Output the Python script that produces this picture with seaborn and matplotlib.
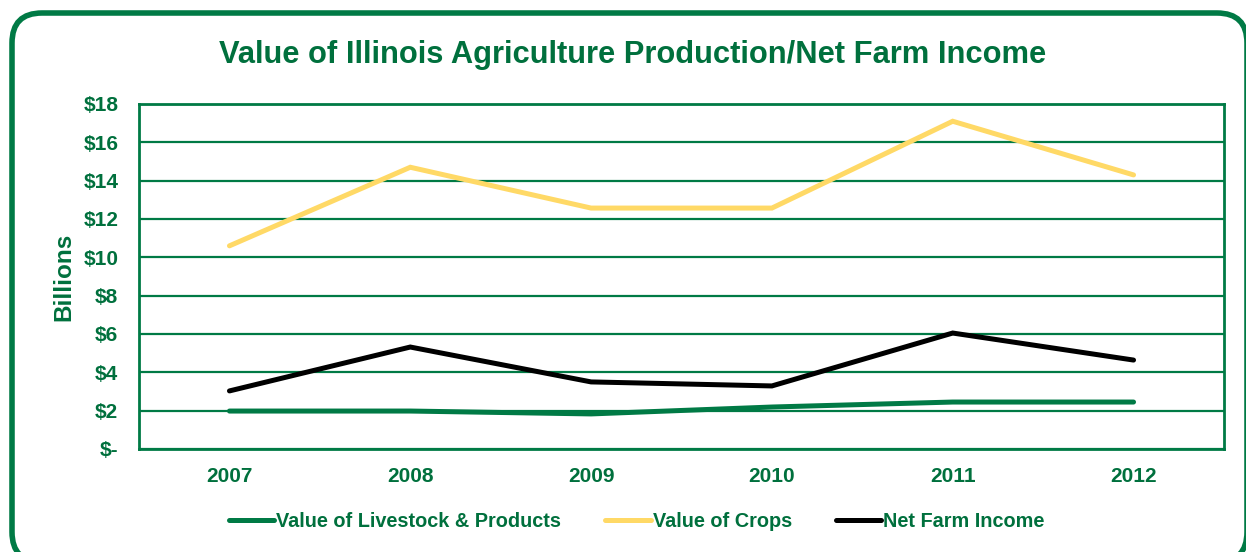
import matplotlib
matplotlib.use("Agg")
import matplotlib.pyplot as plt
from matplotlib.patches import FancyBboxPatch
import seaborn as sns
import pandas as pd

years = ["2007", "2008", "2009", "2010", "2011", "2012"]
livestock = [1.98, 1.98, 1.83, 2.19, 2.45, 2.45]
crops = [10.6, 14.7, 12.57, 12.57, 17.1, 14.3]
net_income = [3.03, 5.32, 3.5, 3.29, 6.05, 4.64]
series_names = ["Value of Livestock & Products", "Value of Crops", "Net Farm Income"]
yticks = [0, 2, 4, 6, 8, 10, 12, 14, 16, 18]
ytick_labels = ["$-", "$2", "$4", "$6", "$8", "$10", "$12", "$14", "$16", "$18"]

GREEN = "#007A45"
TEXT = "#00703D"
palette = {series_names[0]: GREEN, series_names[1]: "#FFD966", series_names[2]: "#000000"}

df = pd.DataFrame({
    "Year": years * 3,
    "Value": livestock + crops + net_income,
    "Series": [series_names[0]] * 6 + [series_names[1]] * 6 + [series_names[2]] * 6,
})

sns.set_theme(style="white")
plt.rcParams["font.family"] = ["Liberation Sans", "DejaVu Sans"]
plt.rcParams["font.weight"] = "bold"

fig = plt.figure(figsize=(12.46, 5.52), dpi=100)
ax = fig.add_axes([0.1116, 0.1866, 0.8707, 0.625])

sns.lineplot(data=df, x="Year", y="Value", hue="Series", palette=palette,
             linewidth=3.6, ax=ax, sort=False, solid_capstyle="round",
             solid_joinstyle="miter")

ax.set_xlim(-0.5, 5.5)
ax.set_ylim(0, 18)
ax.set_yticks(yticks)
ax.set_yticklabels(ytick_labels)
ax.grid(axis="y", color=GREEN, linewidth=1.6)
ax.grid(axis="x", visible=False)
ax.set_axisbelow(True)
for s in ax.spines.values():
    s.set_color(GREEN)
    s.set_linewidth(2)
ax.tick_params(axis="both", length=0, labelsize=15, labelcolor=TEXT)
ax.tick_params(axis="y", pad=15)
ax.tick_params(axis="x", pad=13)
for lab in ax.get_xticklabels() + ax.get_yticklabels():
    lab.set_fontweight("bold")
ax.set_xlabel("")
ax.set_ylabel("Billions", fontsize=17.5, fontweight="bold", color=TEXT, labelpad=6)

handles, labels = ax.get_legend_handles_labels()
ax.get_legend().remove()
leg = fig.legend(handles, labels, loc="center", bbox_to_anchor=(0.511, 0.055), ncol=3,
                 frameon=False, handlelength=2.3, handletextpad=0.1, columnspacing=2.2,
                 prop={"weight": "bold", "size": 14.3})
for t in leg.get_texts():
    t.set_color(TEXT)
for h in leg.get_lines():
    h.set_linewidth(3.6)
    h.set_solid_capstyle("round")

fig.text(0.508, 0.90, "Value of Illinois Agriculture Production/Net Farm Income",
         ha="center", va="center", fontsize=22.2, fontweight="bold", color=TEXT)

border = FancyBboxPatch((0.12, -0.1), 12.35, 5.49,
                        boxstyle="round,pad=0,rounding_size=0.3",
                        transform=fig.dpi_scale_trans, fill=False,
                        edgecolor=GREEN, linewidth=4)
fig.patches.append(border)

fig.savefig("out.png", dpi=100)
